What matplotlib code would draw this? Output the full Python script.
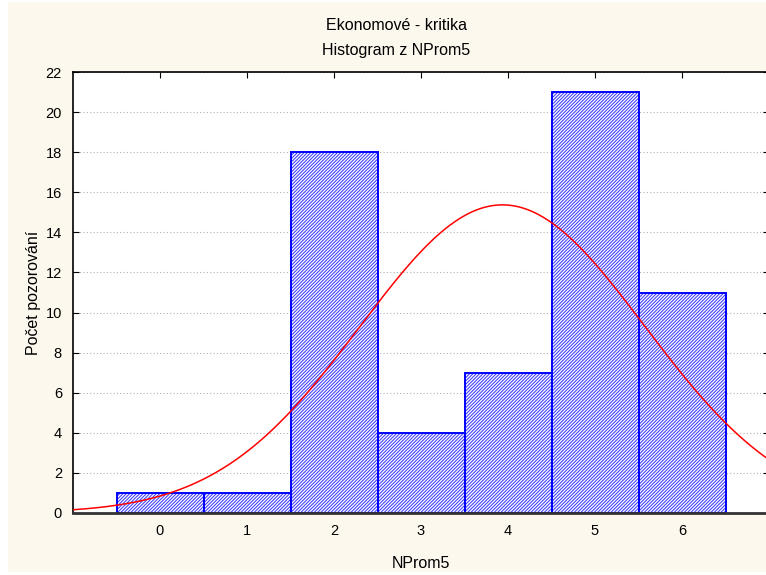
import numpy as np
import matplotlib
matplotlib.use('Agg')
import matplotlib.pyplot as plt
from matplotlib.patches import Rectangle

plt.rcParams['font.family'] = ['Liberation Sans', 'DejaVu Sans']
plt.rcParams['hatch.linewidth'] = 0.75

# data
categories = [0, 1, 2, 3, 4, 5, 6]
counts = [1, 1, 18, 4, 7, 21, 11]
yticks = list(range(0, 23, 2))

fig = plt.figure(figsize=(7.66, 5.75), dpi=100)
fig.patches.append(Rectangle((8/766, 3/575), 1, 570/575, transform=fig.transFigure,
                             facecolor='#fdf8ee', edgecolor='none', zorder=-10))

# axes: left 73px, right 769px, top 72px, bottom 513px
ax = fig.add_axes([73/766, (575-513)/575, (769-73)/766, (513-72)/575])
ax.set_facecolor('white')

# hatch fill in a lighter blue, then the outline on top
ax.bar(categories, counts, width=1.0, color='white', edgecolor='#3a3aff',
       hatch='//////////', linewidth=0, zorder=2)
ax.bar(categories, counts, width=1.0, color='none', edgecolor='#0000ff',
       linewidth=1.4, zorder=2.5)

# fitted normal curve
x = np.repeat(categories, counts)
mu, sd = x.mean(), x.std(ddof=1)
xs = np.linspace(-1, 7, 400)
ys = len(x) * 1.0 / (sd * np.sqrt(2 * np.pi)) * np.exp(-(xs - mu) ** 2 / (2 * sd ** 2))
ax.plot(xs, ys, color='red', linewidth=1.1, zorder=3)

ax.set_xlim(-1, 7)
ax.set_ylim(0, 22)
ax.set_xticks(categories)
ax.set_yticks(yticks)
ax.yaxis.grid(True, linestyle=(0, (1, 2)), color='#b0b0b0', linewidth=0.8)
ax.set_axisbelow(True)
ax.tick_params(direction='in', length=4, labelsize=10.5, top=True, right=True,
               pad=8)
for s in ax.spines.values():
    s.set_color('black')
    s.set_linewidth(1.2)
ax.spines['bottom'].set_color('#333333')
ax.spines['bottom'].set_linewidth(2)

ax.set_xlabel('NProm5', fontsize=11.5, labelpad=13)
ax.set_ylabel('Počet pozorování', fontsize=11.5, labelpad=3)

fig.text(396/766, 1 - 25/575, 'Ekonomové - kritika', ha='center', va='center', fontsize=11.5)
fig.text(396/766, 1 - 50/575, 'Histogram z NProm5', ha='center', va='center', fontsize=11.5)

fig.savefig('out.png', dpi=100)
